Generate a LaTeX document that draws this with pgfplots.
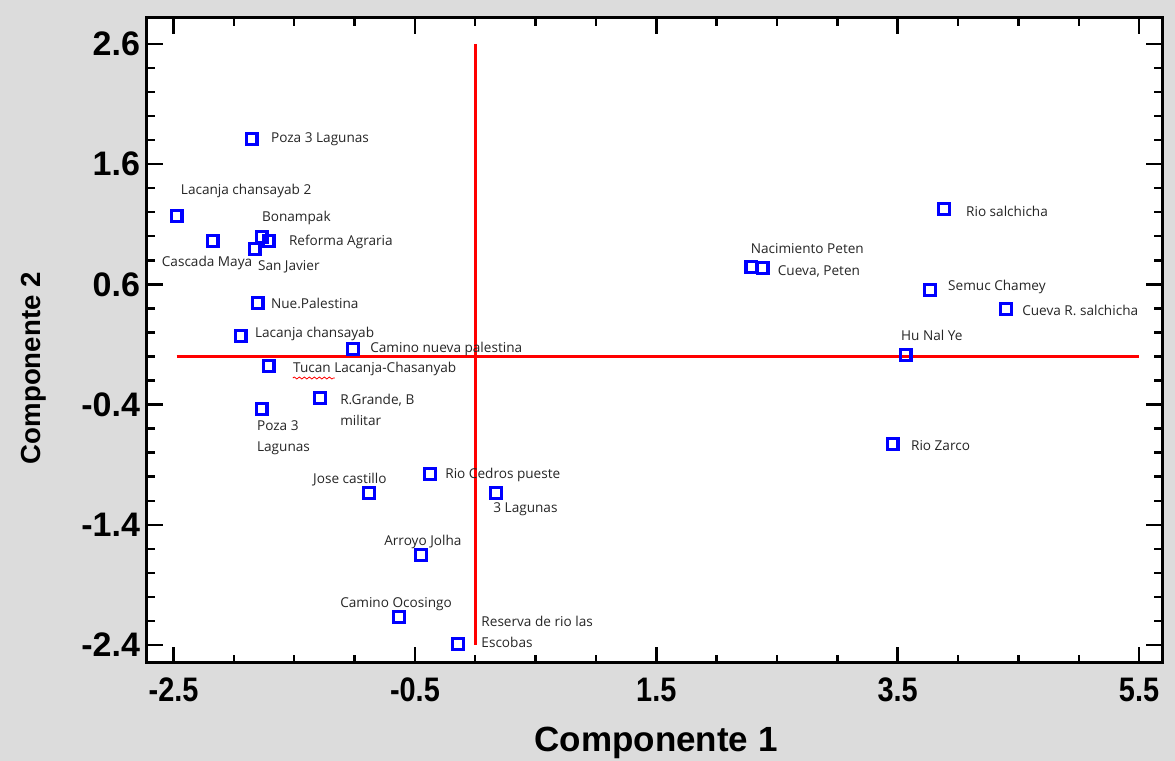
\documentclass[border=0pt]{standalone}
\usepackage{fontspec}
\setmainfont{Liberation Sans}
\newfontfamily\labfont{Open Sans}
\usepackage{pgfplots}
\pgfplotsset{compat=1.18}
\usetikzlibrary{decorations.pathmorphing}
\definecolor{bg}{RGB}{220,220,220}
\definecolor{mblue}{RGB}{0,0,255}
\tikzset{lab/.style={font=\labfont\fontsize{6.8}{10.5}\selectfont, inner sep=0pt, text=black!85, anchor=west, align=left}}
\pgfplotstableread{
x y
-1.853 1.810
-2.475 1.169
-2.176 0.961
-1.770 0.994
-1.712 0.961
-1.828 0.894
-1.803 0.445
-1.944 0.171
-1.014 0.063
-1.712 -0.079
-1.288 -0.345
-1.770 -0.437
-0.882 -1.135
-0.376 -0.977
0.172 -1.135
-0.450 -1.651
-0.633 -2.167
-0.143 -2.392
2.288 0.745
2.380 0.736
3.882 1.227
3.766 0.553
4.396 0.395
3.566 0.013
3.458 -0.728
}\pts
\begin{document}
\begin{tikzpicture}
\fill[bg] (-73.5pt,-49pt) rectangle (514pt,331.5pt);
\useasboundingbox (-73.5pt,-49pt) rectangle (514pt,331.5pt);
\begin{axis}[
  at={(0,0)}, anchor=south west,
  scale only axis, width=507.5pt, height=322.5pt,
  xmin=-2.72, xmax=5.69, ymin=-2.55, ymax=2.816,
  axis background/.style={fill=white},
  axis line style={line width=1.5pt},
  xtick={-2.5,-0.5,1.5,3.5,5.5},
  xticklabels={-2.5,-0.5,1.5,3.5,5.5},
  minor x tick num=3,
  ytick={-2.4,-1.4,-0.4,0.6,1.6,2.6},
  yticklabels={-2.4,-1.4,-0.4,0.6,1.6,2.6},
  minor y tick num=4,
  tick style={black, line width=1.2pt},
  major tick length=8pt, minor tick length=4pt,
  tick align=inside,
  yticklabel style={font=\fontsize{17}{20}\selectfont\bfseries},
  xticklabel style={font=\fontsize{17}{20}\selectfont\bfseries, xscale=0.85, yshift=-4pt},
  xlabel={Componente 1},
  ylabel={Componente 2},
  xlabel style={font=\fontsize{17.5}{20}\selectfont\bfseries, at={(axis description cs:0.5015,-0.124)}, anchor=center},
  ylabel style={font=\fontsize{13.8}{16}\selectfont\bfseries, at={(axis description cs:-0.1113,0.457)}, anchor=center},
  clip=false,
]
\addplot[only marks, mark=square, mark size=2.7pt, mark options={draw=mblue, line width=1.6pt}] table[x=x,y=y] {\pts};
\addplot[red, line width=1.5pt] coordinates {(-2.475,0) (5.5,0)};
\addplot[red, line width=1.5pt] coordinates {(0,2.6) (0,-2.4)};
\draw[red, line width=0.4pt, decorate, decoration={snake, amplitude=0.5pt, segment length=2.5pt}] (axis cs:-1.512,-0.179) -- (axis cs:-1.164,-0.179);
\node[lab] at (axis cs:-1.695,1.810) {Poza 3 Lagunas};
\node[lab] at (axis cs:-2.442,1.377) {Lacanja chansayab 2};
\node[lab] at (axis cs:-2.600,0.778) {Cascada Maya};
\node[lab] at (axis cs:-1.770,1.152) {Bonampak};
\node[lab] at (axis cs:-1.546,0.953) {Reforma Agraria};
\node[lab] at (axis cs:-1.803,0.745) {San Javier};
\node[lab] at (axis cs:-1.695,0.445) {Nue.Palestina};
\node[lab] at (axis cs:-1.828,0.187) {Lacanja chansayab};
\node[lab] at (axis cs:-0.873,0.063) {Camino nueva palestina};
\node[lab] at (axis cs:-1.512,-0.104) {Tucan Lacanja-Chasanyab};
\node[lab] at (axis cs:-1.122,-0.445) {R.Grande, B\\militar};
\node[lab] at (axis cs:-1.811,-0.678) {Poza 3\\Lagunas};
\node[lab] at (axis cs:-1.346,-1.027) {Jose castillo};
\node[lab] at (axis cs:-0.251,-0.986) {Rio Cedros pueste};
\node[lab] at (axis cs:0.147,-1.269) {3 Lagunas};
\node[lab] at (axis cs:-0.757,-1.543) {Arroyo Jolha};
\node[lab] at (axis cs:-1.122,-2.059) {Camino Ocosingo};
\node[lab] at (axis cs:0.048,-2.292) {Reserva de rio las\\Escobas};
\node[lab] at (axis cs:2.280,0.895) {Nacimiento Peten};
\node[lab] at (axis cs:2.504,0.711) {Cueva, Peten};
\node[lab] at (axis cs:4.064,1.211) {Rio salchicha};
\node[lab] at (axis cs:3.915,0.578) {Semuc Chamey};
\node[lab] at (axis cs:4.529,0.387) {Cueva R. salchicha};
\node[lab] at (axis cs:3.525,0.179) {Hu Nal Ye};
\node[lab] at (axis cs:3.608,-0.744) {Rio Zarco};
\end{axis}
\end{tikzpicture}
\end{document}
